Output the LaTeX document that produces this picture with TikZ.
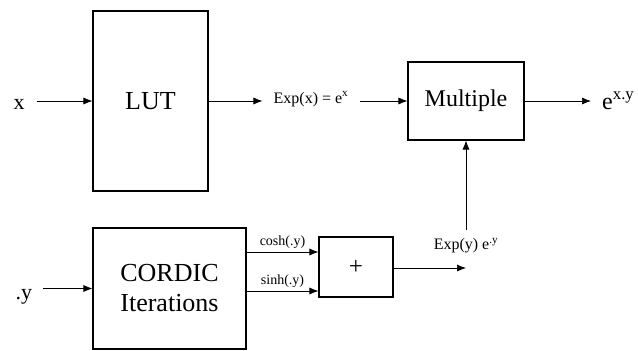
\documentclass[tikz,border=0pt]{standalone}
\usepackage{fontspec}
\setmainfont{Liberation Serif}
\usetikzlibrary{shapes,arrows,arrows.meta,positioning,calc}

\begin{document}
\begin{tikzpicture}[x=1pt,y=-1pt,
  blk/.style={draw, line width=1.1pt, inner sep=0pt, align=center},
  lbl/.style={inner sep=12pt},
  wire/.style={-{Latex[length=9pt,width=7pt]}, line width=0.7pt}]
\useasboundingbox (0,0) rectangle (638,351);
% top row
\node[blk, minimum width=115, minimum height=180, font=\fontsize{26}{30}\selectfont] (lut) at (150.5,101) {LUT};
\node[lbl, font=\fontsize{22}{26}\selectfont] (xin) at (19,104) {x};
\node[blk, minimum width=116, minimum height=78, font=\fontsize{24}{28}\selectfont] (mult) at (466,101) {Multiple};
\node[inner sep=11pt, font=\fontsize{16}{18}\selectfont] (expx) at (311,99) {Exp(x) = e\textsuperscript{x}};
\node[inner sep=0pt, anchor=base west, font=\fontsize{24}{28}\selectfont] (exy) at (602,109) {e\textsuperscript{x.y}};
\coordinate (exyin) at (591,101);
\draw[wire] (xin.east |- lut.west) -- (lut.west);
\draw[wire] (lut.east) -- (expx.west |- lut.east);
\draw[wire] (expx.east |- mult.west) -- (mult.west);
\draw[wire] (mult.east) -- (exyin);
% bottom row
\node[blk, minimum width=153, minimum height=121, font=\fontsize{26}{30}\selectfont] (cordic) at (169.5,288.5) {CORDIC\\Iterations};
\node[lbl, inner sep=11pt, font=\fontsize{22}{26}\selectfont] (yin) at (24,297) {.y};
\node[blk, minimum width=74, minimum height=60, font=\fontsize{25}{28}\selectfont] (plus) at (356,267) {+};
\coordinate (cosh) at (282,252);
\coordinate (sinh) at (282,291);
\coordinate (sumend) at (466,268);
\node[inner sep=8pt, font=\fontsize{16}{18}\selectfont] (expy) at (466,246) {Exp(y) e\textsuperscript{.y}};
\draw[wire] (yin.east |- cordic.west) -- (cordic.west);
\draw[wire] (cordic.east |- cosh) -- (plus.west |- cosh) node[midway, above, inner sep=3pt, font=\fontsize{14}{16}\selectfont] {cosh(.y)};
\draw[wire] (cordic.east |- sinh) -- (plus.west |- sinh) node[midway, above, inner sep=3pt, font=\fontsize{14}{16}\selectfont] {sinh(.y)};
\draw[wire] (plus.east |- sumend) -- (sumend);
\draw[wire] (expy.north) -- (mult.south);
\end{tikzpicture}
\end{document}
